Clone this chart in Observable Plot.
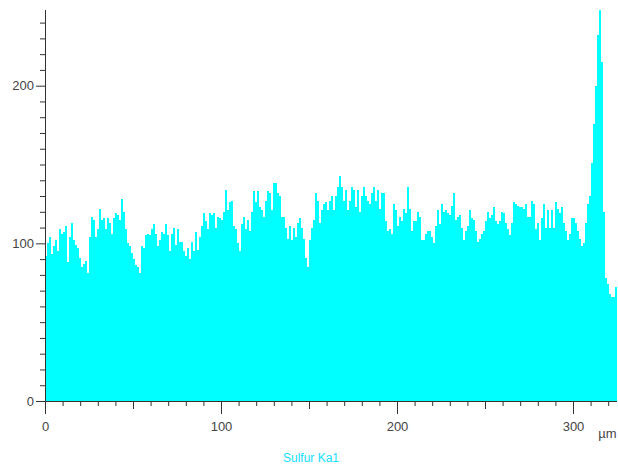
<!DOCTYPE html>
<html><head><meta charset="utf-8">
<script src="https://cdn.jsdelivr.net/npm/d3@7"></script>
<script src="https://cdn.jsdelivr.net/npm/@observablehq/plot@0.6"></script>
<style>
body{margin:0;background:#fff;}
#wrap{position:relative;width:618px;height:467px;overflow:hidden;}
#cap{position:absolute;left:283px;top:451px;font:12px "Liberation Sans",Arial,sans-serif;color:#11ddff;line-height:14px;white-space:nowrap;}
</style></head><body>
<div id="wrap"><div id="chart"></div><div id="cap">Sulfur Ka1</div></div>
<script>
// Sulfur Ka1 line-scan counts (left to right)
const seg1 = [92,100,104,93,98,102,95,109,106,107,111,88,104,113,102,99,97,91,85,87,89,81,104,117,115,104,109,122,115,116,109,116,113,106,116,119,118,115,128,120,109,100,98,94,90,86,85,81,98,97,105,106,105,109,112,106,98,102];
const seg2 = [107,106,112,105,95,106,110,99,109,101,101,95,92,97,90,101,95,107,96,104,111,119,114,109,119,118,119,110,117,116,115,120,134,121,126,127,111,109,100,95,112,117,109,115,108,120,133,126,133,123,121,117,127,133,132,121,138];
const seg3 = [138,132,130,117,117,110,103,111,102,110,104,113,116,110,103,91,85,102,110,115,132,127,113,121,125,126,121,127,130,121,130,136,143,136,127,134,121,127,136,134,123,134,120,130,136,130,127,125,132,136,127,134,122,132,132,114,108];
const seg4 = [109,106,125,121,111,117,114,122,119,136,122,108,114,114,120,117,102,102,106,108,108,104,100,111,121,112,125,120,121,119,118,124,132,115,117,118,110,102,108,111,121,116,115,108,101,103,106,108,114,120,116,118,123,114,112,114,120];
const seg5 = [119,113,109,105,113,126,125,124,123,123,122,125,117,117,127,125,109,113,102,116,125,110,121,110,121,110,126,122,119,123,113,108,102,106,116,116,113,108,103,98,100,113,125,130,151,176,200,232,248,215,120,78,74,68,66,66,72,66];
const counts = [...seg1, ...seg2, ...seg3, ...seg4, ...seg5];
const scanLength = 325; // µm
const step = scanLength / (counts.length - 1);

const yMajorTicks = [0, 100, 200];
const yMinorTicks = [10,20,30,40,50,60,70,80,90,110,120,130,140,150,160,170,180,190,210,220,230,240];
const xMajorTicks = [0, 100, 200, 300];
const xMidTicks = [50, 150, 250];
const xMinorTicks = [10,20,30,40,60,70,80,90,110,120,130,140,160,170,180,190,210,220,230,240,260,270,280,290,310,320];
const unitLabel = "µm";

const data = counts.map((c, i) => ({pos: i * step, cnt: c}));
const axisColor = "#333";

const plot = Plot.plot({
  width: 618, height: 445,
  marginLeft: 45, marginRight: 1, marginTop: 10, marginBottom: 44,
  style: {fontFamily: '"Liberation Sans", Arial, sans-serif', fontSize: "13px", color: axisColor, background: "#fff", overflow: "visible"},
  x: {domain: [0, scanLength], label: null},
  y: {domain: [0, 248], label: null},
  marks: [
    Plot.areaY(data, {x: "pos", y: "cnt", fill: "#00ffff", curve: "step-after", clip: true, shapeRendering: "crispEdges"}),
    Plot.ruleX([0], {y1: 0, y2: 248, stroke: axisColor}),
    Plot.ruleY([0], {stroke: axisColor}),
    Plot.axisY({ticks: yMinorTicks, tickSize: 5, tickFormat: () => "", label: null, stroke: axisColor}),
    Plot.axisY({ticks: yMajorTicks, tickSize: 9, tickPadding: 2.5, label: null, stroke: axisColor, fill: "#444"}),
    Plot.axisX({ticks: xMinorTicks, tickSize: 5, tickFormat: () => "", label: null, stroke: axisColor}),
    Plot.axisX({ticks: xMidTicks, tickSize: 8, tickFormat: () => "", label: null, stroke: axisColor}),
    Plot.axisX({ticks: xMajorTicks, tickSize: 13, tickPadding: 7, label: null, stroke: axisColor, fill: "#444"}),
    Plot.text([unitLabel], {frameAnchor: "bottom-right", text: d => d, textAnchor: "end", dx: -1, dy: 36, fontSize: 13, fill: "#444"})
  ]
});
document.getElementById("chart").appendChild(plot);
</script>
</body></html>
